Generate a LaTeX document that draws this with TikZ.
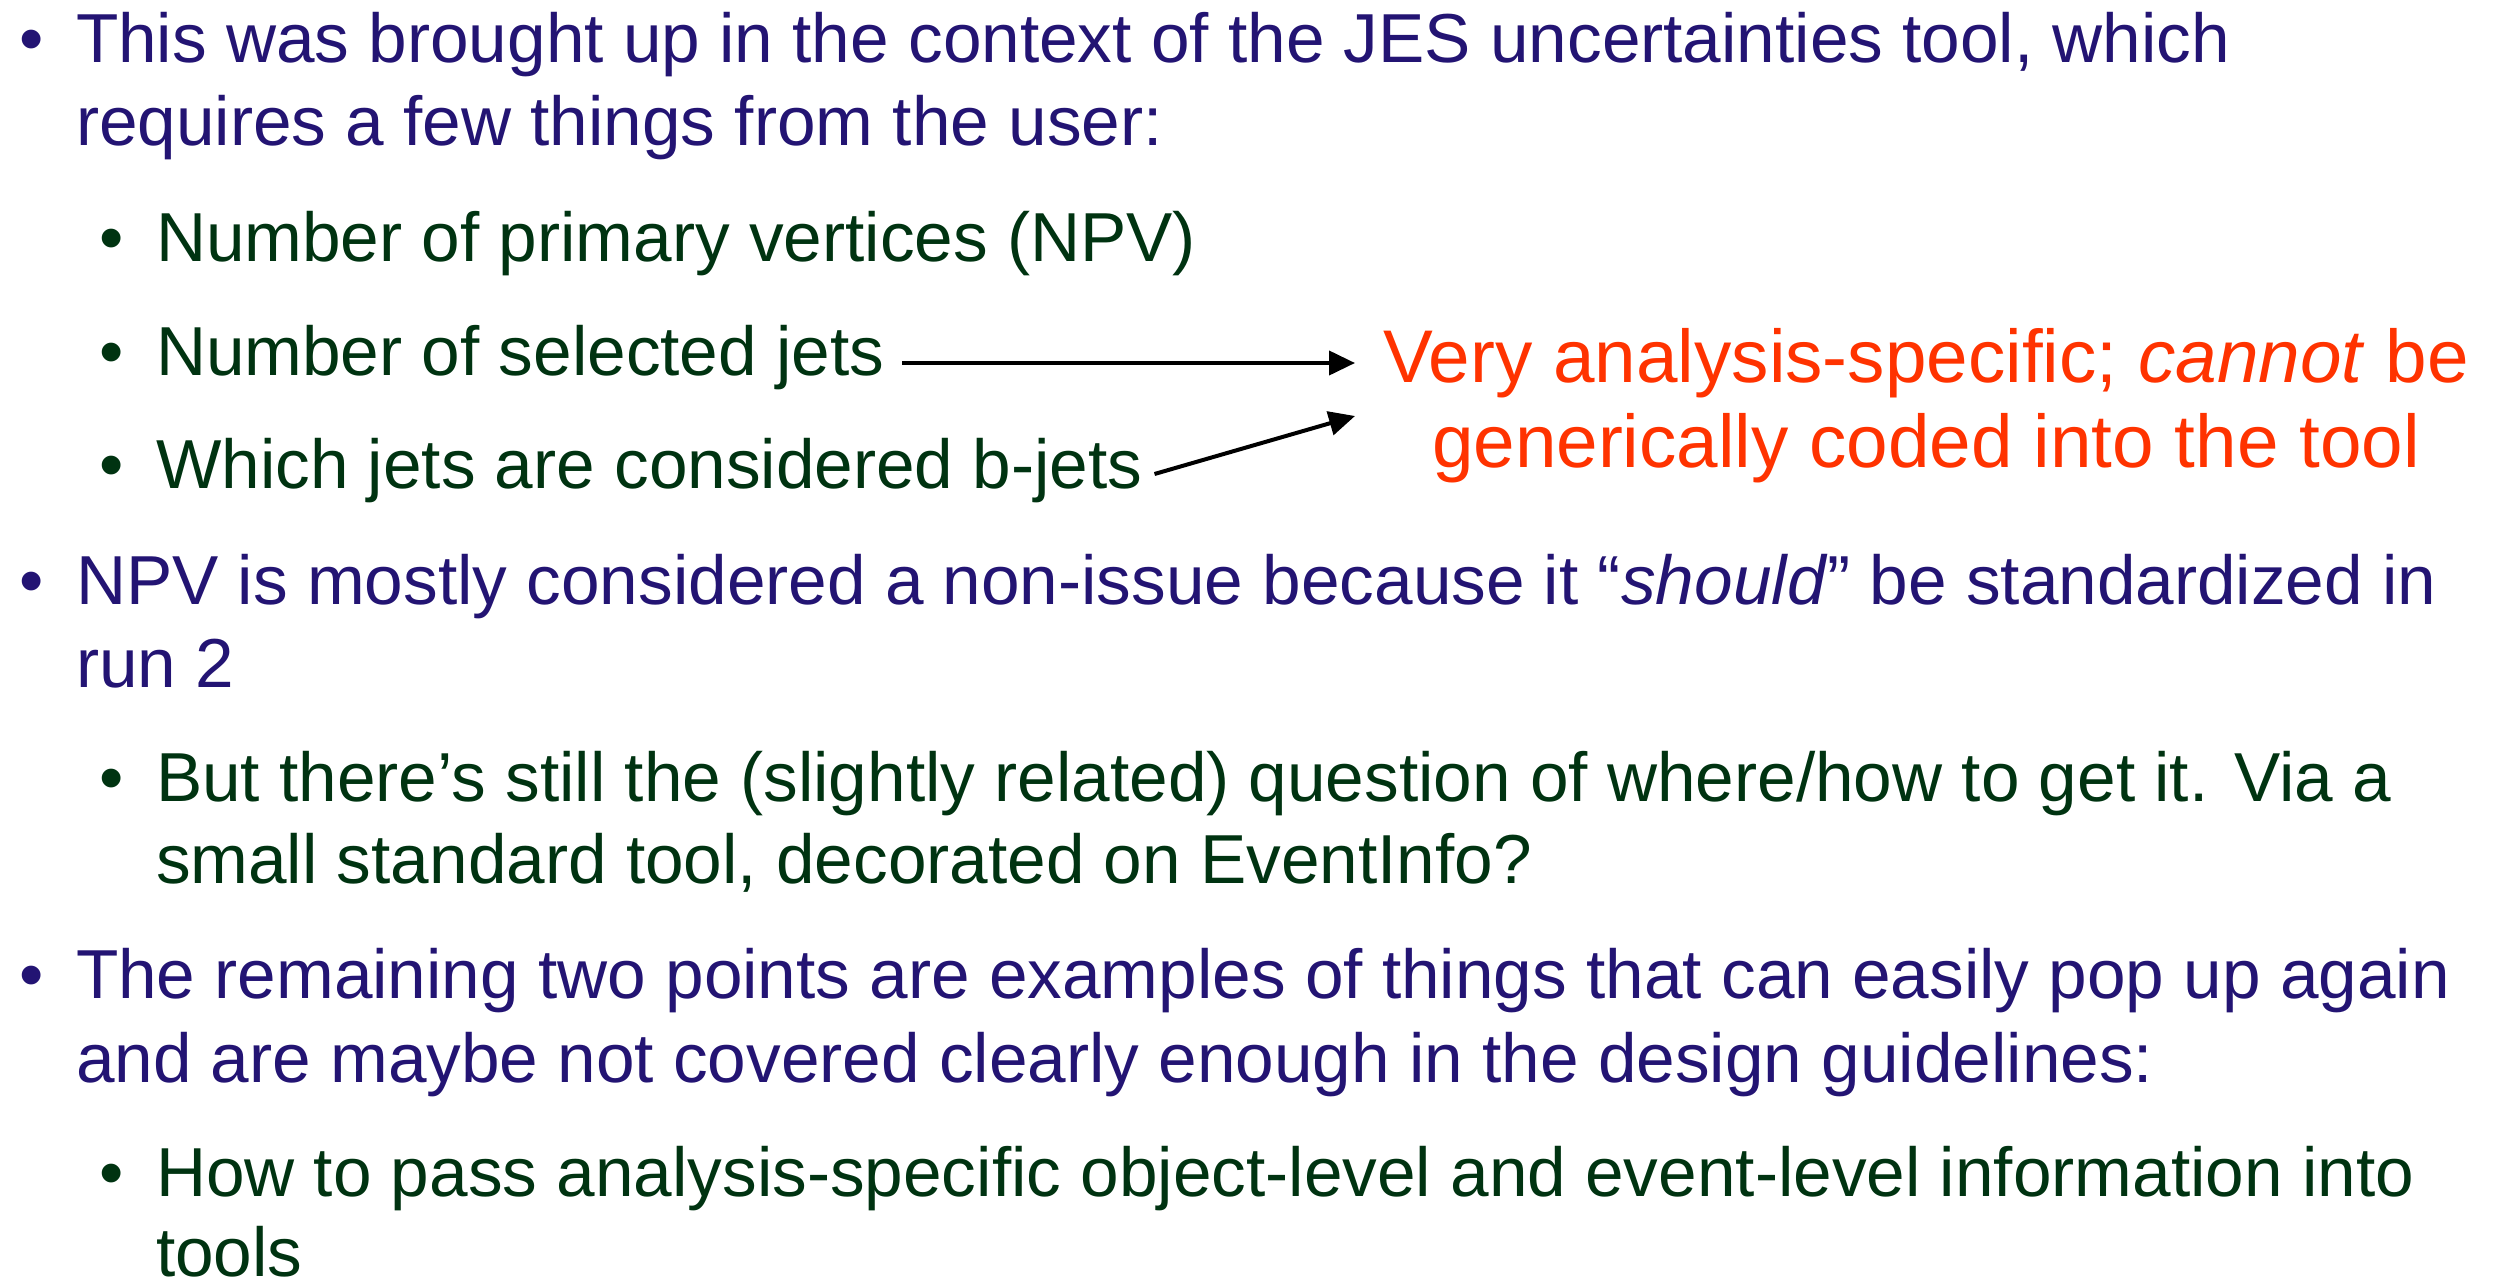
\documentclass[tikz,border=0pt]{standalone}
\usepackage{fontspec}
\setmainfont{Liberation Sans}
\usetikzlibrary{arrows.meta}
\definecolor{lblue}{RGB}{35,20,115}
\definecolor{lgreen}{RGB}{0,51,17}
\definecolor{lred}{RGB}{255,51,0}
\tikzset{
  txt/.style={anchor=base west, inner sep=0pt, outer sep=0pt, font=\fontsize{20.8pt}{24.9pt}\selectfont},
  lone/.style={txt, text=lblue},
  ltwo/.style={txt, text=lgreen},
  bul/.style={anchor=base, inner sep=0pt, font=\fontsize{20.8pt}{24.9pt}\selectfont},
  redtxt/.style={anchor=base, inner sep=0pt, outer sep=0pt, text=lred, font=\fontsize{22.4pt}{25.5pt}\selectfont},
  arr/.style={-{Triangle[length=7.8pt,width=7.2pt]}, line width=1.2pt, black}
}
\begin{document}
\begin{tikzpicture}[x=0.3pt,y=-0.3pt]
\useasboundingbox (0,0) rectangle (2501,1279);
% first block
\node[bul, text=lblue] (b1) at (32,62) {•};
\node[lone] (t1a) at (76,62) {This was brought up in the context of the JES uncertainties tool, which};
\node[lone] (t1b) at (76,145) {requires a few things from the user:};
\node[bul, text=lgreen] (b2) at (112,261) {•};
\node[ltwo] (npv) at (156,261) {Number of primary vertices (NPV)};
\node[bul, text=lgreen] (b3) at (112,375) {•};
\node[ltwo] (sel) at (156,375) {Number of selected jets};
\node[bul, text=lgreen] (b4) at (112,488) {•};
\node[ltwo] (bj) at (156,488) {Which jets are considered b-jets};
% red remark
\node[redtxt] (r1) at (1926,382) {Very analysis-specific; \textit{cannot} be};
\node[redtxt] (r2) at (1926,467) {generically coded into the tool};
% arrows
\coordinate (a1e) at (1355,363);
\coordinate (a2e) at (1355,416);
\draw[arr] ([shift={(18,-12)}]sel.base east) -- (a1e);
\draw[arr] ([shift={(12,-14)}]bj.base east) -- (a2e);
% second block
\node[bul, text=lblue] (b5) at (32,604) {•};
\node[lone] (t2a) at (76,604) {NPV is mostly considered a non-issue because it “\textit{should}” be standardized in};
\node[lone] (t2b) at (76,687) {run 2};
\node[bul, text=lgreen] (b6) at (112,801) {•};
\node[ltwo] (t3a) at (156,801) {But there’s still the (slightly related) question of where/how to get it. Via a};
\node[ltwo] (t3b) at (156,883) {small standard tool, decorated on EventInfo?};
% third block
\node[bul, text=lblue] (b7) at (32,998) {•};
\node[lone] (t4a) at (76,998) {The remaining two points are examples of things that can easily pop up again};
\node[lone] (t4b) at (76,1082) {and are maybe not covered clearly enough in the design guidelines:};
\node[bul, text=lgreen] (b8) at (112,1196) {•};
\node[ltwo] (t5a) at (156,1196) {How to pass analysis-specific object-level and event-level information into};
\node[ltwo] (t5b) at (156,1276) {tools};
\end{tikzpicture}
\end{document}
